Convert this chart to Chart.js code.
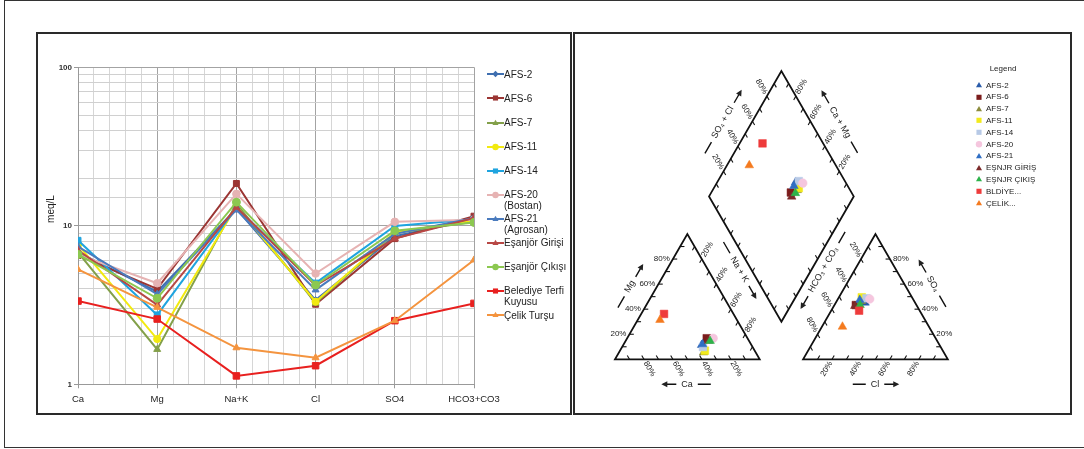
<!DOCTYPE html>
<html><head><meta charset="utf-8">
<script src="https://cdn.jsdelivr.net/npm/chart.js@4.4.0/dist/chart.umd.min.js"></script>
<style>
html,body{margin:0;padding:0;background:#fff;}
body{width:1084px;height:449px;position:relative;overflow:hidden;font-family:"Liberation Sans",Arial,sans-serif;}
.abs{position:absolute;}
#outer{left:4px;top:0;width:1100px;height:448px;border:1.5px solid #333;box-sizing:border-box;}
#lp{left:36px;top:32px;width:536px;height:383px;border:2px solid #2a2a2a;box-sizing:border-box;}
#rp{left:573px;top:32px;width:499px;height:383px;border:2px solid #2a2a2a;box-sizing:border-box;}
#c1{left:38px;top:34px;}
#c2{left:575px;top:34px;}
.lg{position:absolute;font-size:10px;line-height:11px;color:#222;white-space:pre;}
.pl{position:absolute;font-size:8px;line-height:9px;color:#222;white-space:pre;}
</style></head>
<body>
<div id="outer" class="abs"></div>
<div id="lp" class="abs"></div>
<div id="rp" class="abs"></div>
<canvas id="c1" class="abs" width="532" height="378"></canvas>
<canvas id="c2" class="abs" width="495" height="379"></canvas>
<div id="legends"></div>
<script>
// ---------- Schoeller diagram data ----------
const categories = ['Ca','Mg','Na+K','Cl','SO4','HCO3+CO3'];
const seriesNames = ['AFS-2','AFS-6','AFS-7','AFS-11','AFS-14','AFS-20\n(Bostan)','AFS-21\n(Agrosan)','Eşanjör Girişi','Eşanjör Çıkışı','Belediye Terfi\nKuyusu','Çelik Turşu'];
const afs2     = [6.8, 3.84, 12.8, 3.40, 8.6, 11.0];
const afs6     = [6.5, 4.00, 18.5, 3.20, 8.3, 11.5];
const afs7     = [6.8, 1.66, 13.8, 3.25, 9.0, 10.6];
const afs11    = [7.6, 1.93, 13.3, 3.32, 9.1, 10.8];
const afs14    = [8.1, 2.74, 13.0, 4.35, 9.97, 11.0];
const afs20    = [6.6, 4.34, 15.9, 5.00, 10.6, 10.9];
const afs21    = [7.4, 3.70, 12.6, 3.94, 8.9, 11.2];
const esGiris  = [7.0, 3.17, 13.1, 4.20, 8.3, 11.2];
const esCikis  = [6.6, 3.49, 14.1, 4.23, 9.3, 10.5];
const belediye = [3.35, 2.58, 1.13, 1.31, 2.52, 3.24];
const celik    = [5.3, 3.06, 1.70, 1.47, 2.52, 6.09];
const yTickLabels = [1, 10, 100];

// ---------- Piper diagram data (percent of meq) ----------
const piperNames = ['AFS-2','AFS-6','AFS-7','AFS-11','AFS-14','AFS-20','AFS-21','EŞNJR GİRİŞ','EŞNJR ÇIKIŞ','BLDİYE...','ÇELİK...'];
const caPct  = [34.4, 28.2, 36.0, 34.4, 34.3, 23.7, 33.5, 28.0, 27.0, 48.0, 53.2];
const mgPct  = [11.4, 16.8, 5.5, 6.9, 9.8, 16.8, 12.0, 14.8, 14.6, 36.2, 31.4];
const clPct  = [20.2, 14.8, 17.0, 15.8, 19.4, 22.0, 15.5, 14.5, 17.7, 19.3, 14.2];
const so4Pct = [45.2, 43.3, 46.5, 49.5, 48.7, 48.1, 47.3, 42.5, 43.3, 38.8, 26.0];
const pctTicks = [20, 40, 60, 80];

const F = '"Liberation Sans", Arial, sans-serif';

// ---------- styles ----------
const leftSeries = [afs2, afs6, afs7, afs11, afs14, afs20, afs21, esGiris, esCikis, belediye, celik];
const leftColors = ['#3F6FB0','#9B3533','#83A04A','#F2EA10','#1FA4DF','#E6B3B3','#4A7BBE','#B84845','#8CC850','#E8201F','#F4943F'];
const leftStyles = ['rectRot','rect','triangle','circle','rect','circle','triangle','triangle','circle','rect','triangle'];
const leftRadius = [3.5,4.2,4,3.6,4.2,3.8,4,4,4,4.6,4];

const piperColors = ['#2A5CAA','#7B1C1C','#8C8C3C','#F2EA1C','#B7C9E6','#F5C6DE','#2F6EC4','#7C2A2A','#2DB34A','#EE3B3B','#F47A1F'];
const piperStyles = ['triangle','rect','triangle','rect','rect','circle','triangle','triangle','triangle','rect','triangle'];

function shapeSVG(style, color, cx, cy, r){
  if(style==='circle') return `<circle cx="${cx}" cy="${cy}" r="${r}" fill="${color}"/>`;
  if(style==='rect') { const h=r*0.8; return `<rect x="${cx-h}" y="${cy-h}" width="${2*h}" height="${2*h}" fill="${color}"/>`; }
  if(style==='rectRot') return `<polygon points="${cx},${cy-r} ${cx+r},${cy} ${cx},${cy+r} ${cx-r},${cy}" fill="${color}"/>`;
  return `<polygon points="${cx},${cy-r} ${cx+r*0.95},${cy+r*0.6} ${cx-r*0.95},${cy+r*0.6}" fill="${color}"/>`;
}

// ---------- legends (HTML) ----------
let html = '';
seriesNames.forEach((n,i)=>{
  const y = 74.3 + 24.1*i;
  html += `<svg class="abs" style="left:487px;top:${(y-6).toFixed(1)}px" width="17" height="12"><line x1="0" y1="6" x2="17" y2="6" stroke="${leftColors[i]}" stroke-width="2"/>${shapeSVG(leftStyles[i], leftColors[i], 8.5, 6, 3.2)}</svg>`;
  html += `<div class="lg" style="left:504px;top:${(y-5.8).toFixed(1)}px">${n}</div>`;
});
html += `<div class="pl" style="left:983px;top:63.5px;width:40px;text-align:center;">Legend</div>`;
piperNames.forEach((n,i)=>{
  const y = 85 + 11.8*i;
  html += `<svg class="abs" style="left:975px;top:${(y-4).toFixed(1)}px" width="8" height="8">${shapeSVG(piperStyles[i], piperColors[i], 4, 4.3, 3.2)}</svg>`;
  html += `<div class="pl" style="left:986px;top:${(y-4.5).toFixed(1)}px">${n}</div>`;
});
document.getElementById('legends').innerHTML = html;

// ---------- Schoeller chart ----------
const isMajorY = v => yTickLabels.includes(v);
const yTitle = {
  id:'yTitle',
  afterDraw(chart){
    const c = chart.ctx; c.save();
    c.translate(13, 175); c.rotate(-Math.PI/2);
    c.font = '10px '+F; c.fillStyle = '#222'; c.textAlign='center'; c.textBaseline='middle';
    c.fillText('meq/L', 0, 0); c.restore();
  }
};
new Chart(document.getElementById('c1'), {
  type:'line',
  data:{ datasets: leftSeries.map((s,i)=>({
    label: seriesNames[i].replace('\n',' '),
    data: s.map((v,j)=>({x:j*5, y:v})),
    borderColor: leftColors[i], backgroundColor: leftColors[i],
    pointBackgroundColor: leftColors[i], pointBorderColor: leftColors[i], pointBorderWidth: 1,
    pointStyle: leftStyles[i], pointRadius: leftRadius[i], borderWidth: 2, tension: 0,
    order: 20 - i
  }))},
  options:{
    responsive:false, animation:false, devicePixelRatio:1,
    layout:{padding:{top:33.3, right:96, left:0, bottom:0}, autoPadding:false},
    plugins:{legend:{display:false}, tooltip:{enabled:false}},
    scales:{
      x:{ type:'linear', min:0, max:25,
        afterFit(s){ s.height = 27.7; },
        ticks:{ stepSize:1, autoSkip:false, maxRotation:0, padding:5, color:'#222', font:{size:9.5, family:F},
          callback:(v)=> (Math.round(v)%5===0 ? categories[Math.round(v)/5] : '') },
        grid:{ color:(c)=> (c.tick && Math.round(c.tick.value)%5===0 ? '#a3a3a3' : '#d6d6d6'),
          tickColor:(c)=> (c.tick && Math.round(c.tick.value)%5===0 ? '#999' : 'rgba(0,0,0,0)'), tickLength:4, lineWidth:1 },
        border:{color:'#999', width:1}
      },
      y:{ type:'logarithmic', min:1, max:100,
        afterFit(s){ s.width = 40; },
        ticks:{ autoSkip:false, padding:2, color:'#333', font:{size:8, weight:'bold', family:F},
          callback:(v)=> (isMajorY(v) ? String(v) : '') },
        grid:{ color:(c)=> (c.tick && isMajorY(c.tick.value) ? '#a3a3a3' : '#d0d0d0'),
          tickColor:(c)=> (c.tick && isMajorY(c.tick.value) ? '#999' : 'rgba(0,0,0,0)'), tickLength:4, lineWidth:1 },
        border:{color:'#999', width:1}
      }
    }
  },
  plugins:[yTitle]
});

// ---------- Piper geometry ----------
const S3 = Math.sqrt(3)/2, L = 100, G = 30;
const A0=[0,0], A1=[L,0], A2=[L/2, L*S3];
const B0=[L+G,0], B1=[2*L+G,0], B2=[L+G+L/2, L*S3];
const d60=[0.5,S3], d120=[-0.5,S3];
const D0=[L+G/2, G*S3];
const DL=[D0[0]+L*d120[0], D0[1]+L*d120[1]];
const DR=[D0[0]+L*d60[0], D0[1]+L*d60[1]];
const DT=[DL[0]+L*d60[0], DL[1]+L*d60[1]];
const add=(P,d,k)=>[P[0]+d[0]*k, P[1]+d[1]*k];
const lerp=(P,Q,t)=>[P[0]+(Q[0]-P[0])*t, P[1]+(Q[1]-P[1])*t];
function cationXY(ca,mg){ const nak=100-ca-mg; return {x:A0[0]+nak+mg/2, y:mg*S3}; }
function anionXY(cl,so4){ return {x:B0[0]+cl+so4/2, y:so4*S3}; }
function diamondXY(ca,mg,cl,so4){ const c=ca+mg, s=cl+so4; return {x:D0[0]+c/100*L*d120[0]+s/100*L*d60[0], y:D0[1]+c/100*L*d120[1]+s/100*L*d60[1]}; }

const piperFrame = {
  id:'piperFrame',
  beforeDatasetsDraw(chart){
    const c = chart.ctx, xs = chart.scales.x, ys = chart.scales.y;
    const px = P => [xs.getPixelForValue(P[0]), ys.getPixelForValue(P[1])];
    c.save();
    c.strokeStyle = '#111'; c.fillStyle = '#222'; c.lineJoin='miter';
    // outlines
    c.lineWidth = 1.8;
    [[A0,A1,A2],[B0,B1,B2],[D0,DR,DT,DL]].forEach(poly=>{
      c.beginPath(); poly.forEach((P,k)=>{ const [x,y]=px(P); k?c.lineTo(x,y):c.moveTo(x,y); }); c.closePath(); c.stroke();
    });
    // ticks
    c.lineWidth = 1.1;
    const edges = [
      [A0,A1,[-0.5,S3]],[A0,A2,[1,0]],[A1,A2,[-0.5,-S3]],
      [B0,B1,[0.5,S3]],[B1,B2,[-1,0]],[B0,B2,[0.5,-S3]],
      [DL,DT,[0.5,-S3]],[DR,DT,[-0.5,-S3]],[D0,DL,[0.5,S3]],[D0,DR,[-0.5,S3]]
    ];
    edges.forEach(([P,Q,d])=>{
      for(let k=1;k<10;k++){
        const a = lerp(P,Q,k/10), b = add(a,d,3);
        const [x1,y1]=px(a), [x2,y2]=px(b);
        c.beginPath(); c.moveTo(x1,y1); c.lineTo(x2,y2); c.stroke();
      }
    });
    // tick labels
    c.font = '8px '+F; c.textBaseline='middle';
    const lab = (P,t,rot,align,off)=>{ const [x,y]=px(P); c.save(); c.translate(x,y); c.rotate(rot*Math.PI/180); c.textAlign=align; c.fillText(t,off,0); c.restore(); };
    pctTicks.forEach(p=>{
      const t = p+'%';
      lab([p*0.5, p*S3], t, 0, 'right', -3);                 // Mg
      lab([100-p, 0], t, 60, 'left', 3);                      // Ca
      lab(lerp(A2,A1,p/100), t, -60, 'left', 3);              // Na+K
      lab([B0[0]+p, 0], t, -60, 'right', -3);                 // Cl
      lab(add(B1,[-0.5,S3],p), t, 0, 'left', 3);              // SO4
      lab(lerp(B2,B0,p/100), t, 60, 'right', -3);             // HCO3+CO3
      lab(add(DL,d60,p), t, 60, 'right', -3);                 // SO4+Cl
      lab(add(DR,d120,p), t, -60, 'left', 3);                 // Ca+Mg
    });
    // axis titles with arrows
    c.font = '9px '+F; c.lineWidth = 1.4;
    const title = (P,t,rot,arrowEnd)=>{
      const [x,y]=px(P); c.save(); c.translate(x,y); c.rotate(rot*Math.PI/180);
      c.textAlign='center'; c.textBaseline='middle'; c.fillText(t,0,0);
      const hw = c.measureText(t).width/2, g=5, len=13;
      c.beginPath(); c.moveTo(-hw-g,0); c.lineTo(-hw-g-len,0); c.moveTo(hw+g,0); c.lineTo(hw+g+len,0); c.stroke();
      const s = arrowEnd?1:-1, tip = s*(hw+g+len+2);
      c.beginPath(); c.moveTo(tip,0); c.lineTo(tip-s*6,-3); c.lineTo(tip-s*6,3); c.closePath(); c.fill();
      c.restore();
    };
    title([10.4,50.2],'Mg',-60,true);
    title([49.8,-17.2],'Ca',0,false);
    title([86,62],'Na + K',60,true);
    title([179.7,-17.2],'Cl',0,true);
    title([219.6,52],'SO₄',60,false);
    title([144,62],'HCO₃ + CO₃',-60,false);
    title([74.5,163.7],'SO₄ + Cl',-60,true);
    title([155.5,163.7],'Ca + Mg',60,false);
    c.restore();
  }
};

new Chart(document.getElementById('c2'), {
  type:'scatter',
  data:{ datasets: piperNames.map((n,i)=>({
    label:n,
    data:[cationXY(caPct[i],mgPct[i]), anionXY(clPct[i],so4Pct[i]), diamondXY(caPct[i],mgPct[i],clPct[i],so4Pct[i])],
    pointStyle: piperStyles[i],
    pointRadius: piperStyles[i]==='rect'?5.4:(piperStyles[i]==='circle'?4.3:5),
    backgroundColor: piperColors[i], borderColor: piperColors[i], borderWidth:0.5,
    order: 20 - i
  }))},
  options:{
    responsive:false, animation:false, devicePixelRatio:1,
    layout:{padding:0, autoPadding:false},
    plugins:{legend:{display:false}, tooltip:{enabled:false}},
    scales:{ x:{type:'linear', display:false, min:-27.64, max:314.45},
             y:{type:'linear', display:false, min:-37.11, max:224.81} }
  },
  plugins:[piperFrame]
});
</script>
</body></html>
